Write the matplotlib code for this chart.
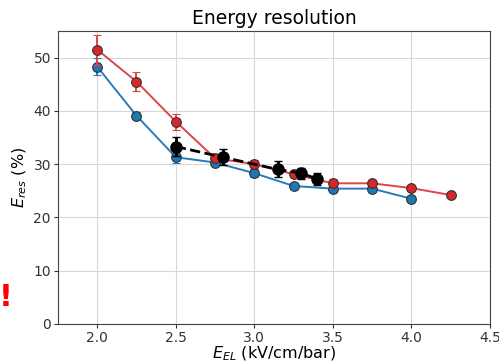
import numpy as np
import matplotlib.pyplot as plt

# red series
red_x = [2.0, 2.25, 2.5, 2.75, 3.0, 3.25, 3.5, 3.75, 4.0, 4.25]
red_y = [51.5, 45.5, 38.0, 31.1, 30.0, 28.1, 26.4, 26.4, 25.5, 24.2]
red_e = [2.8, 1.7, 1.5, 0.5, 0.7, 0.6, 0.8, 0.6, 0.4, 0.4]

# blue series
blue_x = [2.0, 2.25, 2.5, 2.75, 3.0, 3.25, 3.5, 3.75, 4.0]
blue_y = [48.3, 39.1, 31.3, 30.3, 28.3, 25.9, 25.4, 25.4, 23.5]
blue_e = [1.6, 0.7, 1.0, 0.5, 0.7, 0.5, 0.4, 0.4, 0.4]

# black series
blk_x = [2.5, 2.8, 3.15, 3.3, 3.4]
blk_y = [33.3, 31.3, 29.0, 28.3, 27.2]
blk_e = [1.7, 1.5, 1.5, 1.0, 1.2]

fig = plt.figure(figsize=(4.99, 3.64), dpi=100)
ax = fig.add_axes([0.116, 0.110, 0.866, 0.805])

ax.errorbar(blue_x, blue_y, yerr=blue_e, color='#2a7ab8', ecolor='#2a7ab8', marker='o',
            ms=7, mfc='#1f77b4', mec='#333333', mew=0.8, capsize=3, lw=1.4, zorder=3)
ax.errorbar(red_x, red_y, yerr=red_e, color='#e04448', ecolor='#e04448', marker='o',
            ms=7, mfc='#d62728', mec='#333333', mew=0.8, capsize=3, lw=1.4, zorder=4)
ax.errorbar(blk_x, blk_y, yerr=blk_e, color='black', marker='o', ms=8, ls='--',
            lw=2, capsize=3, zorder=5)

ax.set_xlim(1.75, 4.5)
ax.set_ylim(0, 55)
ax.set_xticks([2.0, 2.5, 3.0, 3.5, 4.0, 4.5])
ax.set_yticks([0, 10, 20, 30, 40, 50])
ax.grid(True, color='#d8d8d8', lw=0.8)
ax.set_axisbelow(True)
ax.tick_params(labelsize=10, colors='#333333', length=3, pad=2)
for s in ax.spines.values():
    s.set_color('#444444')

ax.set_title('Energy resolution', fontsize=13.5, pad=5)
ax.set_xlabel('$E_{EL}$ (kV/cm/bar)', fontsize=11.5, labelpad=0)
ax.set_ylabel('$E_{res}$ (%)', fontsize=11.5, labelpad=3)

fig.text(0.012, 0.184, '!', color='red', fontsize=22, fontweight='bold', va='center', ha='center')

fig.savefig('out.png', dpi=100)
